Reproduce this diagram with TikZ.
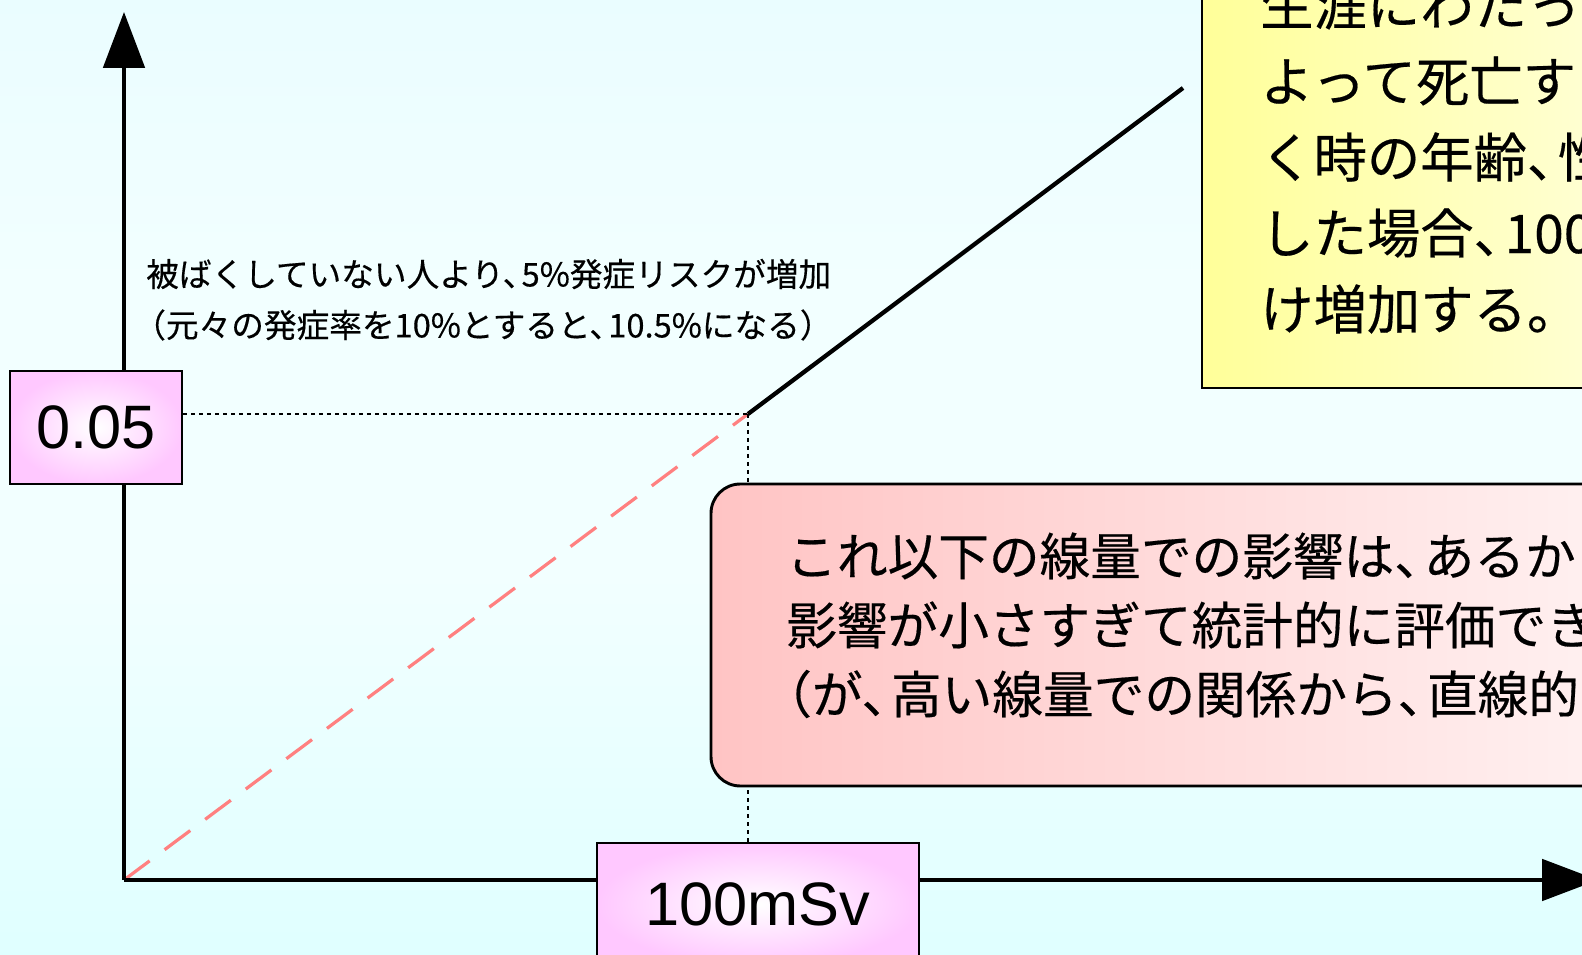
\documentclass[tikz,border=0pt]{standalone}
\usepackage{fontspec}
\setmainfont{Liberation Sans}
\newfontfamily\jp[FakeBold=0.35]{Noto Sans CJK JP}
\newcommand\tten{、\kern-0.42em}
\usetikzlibrary{arrows.meta}
\definecolor{bgtop}{HTML}{DDF9FF}
\definecolor{bgmid}{HTML}{F2FFFF}
\definecolor{bgbot}{HTML}{C8FFFF}
\definecolor{salmon}{HTML}{FF8080}
\definecolor{boxpink}{HTML}{FFC8FF}
\definecolor{redbox}{HTML}{FFC4C4}
\definecolor{yellowbox}{HTML}{FFFF99}
\pgfdeclareverticalshading{bgshade}{100bp}{color(0bp)=(bgbot); color(45bp)=(bgmid); color(60bp)=(bgmid); color(100bp)=(bgtop)}
\tikzset{
  axis/.style={line width=3pt, -{Triangle[length=42pt,width=31pt]}},
  guide/.style={line width=1.4pt, dash pattern=on 3pt off 3pt},
  valbox/.style={draw=black, line width=2.2pt, inner color=white, outer color=boxpink, font=\fontsize{46}{50}\selectfont, inner sep=0pt},
  yellowbox/.style={draw=black, line width=2.2pt, left color=yellowbox, right color=white},
  notebox/.style={draw=black, line width=2.2pt, rounded corners=22pt, left color=redbox, right color=white},
  bigjp/.style={anchor=west, inner sep=0pt, font=\jp\fontsize{40}{48}\selectfont},
  midjp/.style={anchor=west, inner sep=0pt, font=\jp\fontsize{38}{44}\selectfont},
  smalljp/.style={anchor=west, inner sep=0pt, font=\jp\fontsize{24.5}{30}\selectfont},
}
\begin{document}
\begin{tikzpicture}[x=0.75pt, y=-0.75pt]
\clip (0,0) rectangle (1582,955);
\fill[shading=bgshade] (0,0) rectangle (1582,955);
% key points
\coordinate (O) at (124,880);
\coordinate (P) at (748,414);
\coordinate (E) at (1183,88);
\coordinate (Ytop) at (124,12);
\coordinate (Xend) at (1598,880);
% line
\draw[salmon, line width=2.4pt, dash pattern=on 24pt off 14pt] (O) -- (P);
\draw[black, line width=3.2pt] (P) -- (E);
% axes
\draw[axis] (O) -- (Ytop);
\draw[axis] (O) -- (Xend);
% boxes
\node[valbox, minimum width=129pt, minimum height=84.75pt] (v05) at (96,427.5) {0.05};
\node[valbox, minimum width=241.5pt, minimum height=91.5pt] (v100) at (758,904) {100mSv};
% guides
\draw[guide] (v05.east |- P) -- (P);
\draw[guide] (P) -- (P |- v100.north);
% note box
\node[notebox, minimum width=891.75pt, minimum height=226.5pt] (note) at (1305.5,635) {};
\node[midjp] (n1) at (786,556) {これ以下の線量での影響は\tten あるか};
\node[midjp] (n2) at (786,625) {影響が小さすぎて統計的に評価でき};
\node[midjp] (n3) at (761,694) {（が\tten 高い線量での関係から\tten 直線的};
% yellow box
\node[yellowbox, minimum width=523.5pt, minimum height=306pt] (ybox) at (1551,184) {};
\node[bigjp] (y1) at (1260,5) {生涯にわたっ};
\node[bigjp] (y2) at (1260,81) {よって死亡す};
\node[bigjp] (y3) at (1260,157) {く時の年齢\tten 性};
\node[bigjp] (y4) at (1260,233) {した場合\tten 100};
\node[bigjp] (y5) at (1260,309) {け増加する。};
% small labels
\node[smalljp] (s1) at (146,274) {被ばくしていない人より\tten 5\%発症リスクが増加};
\node[smalljp] (s2) at (133,325) {（元々の発症率を10\%とすると\tten 10.5\%になる）};
\end{tikzpicture}
\end{document}
